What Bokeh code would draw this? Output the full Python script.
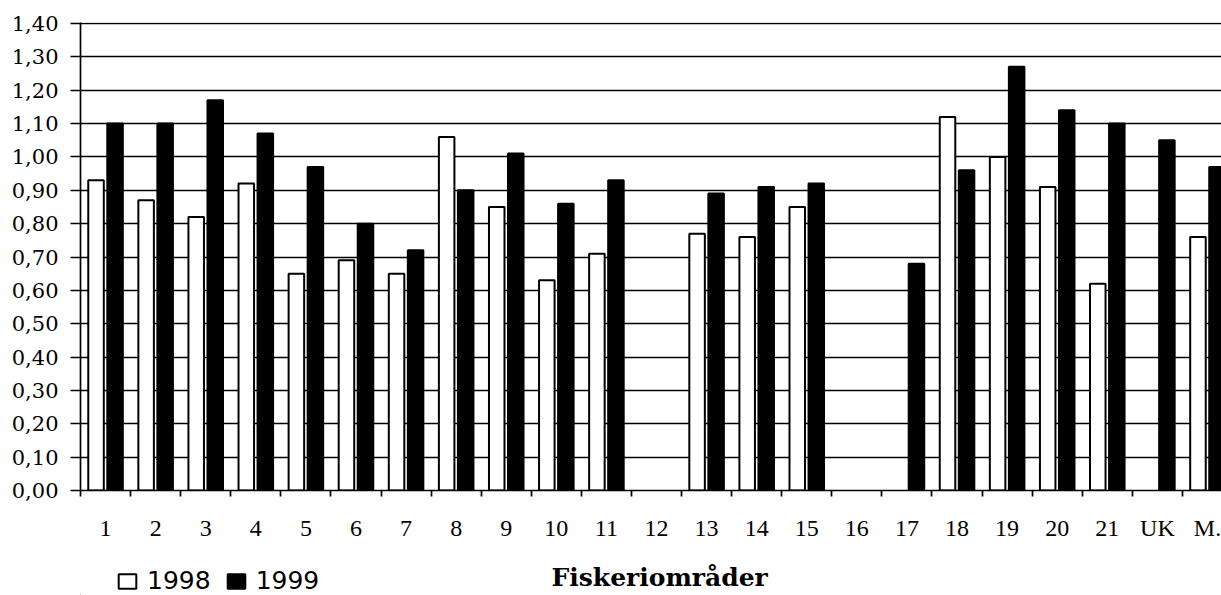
from bokeh.plotting import figure
from bokeh.layouts import column
from bokeh.models import (Range1d, LinearAxis, FixedTicker, CustomJSTickFormatter,
                          ColumnDataSource, Legend, LegendItem, Label, Grid)
from bokeh.embed import file_html
from bokeh.resources import INLINE

# ---------------- data ----------------
categories = ["1", "2", "3", "4", "5", "6", "7", "8", "9", "10", "11", "12",
              "13", "14", "15", "16", "17", "18", "19", "20", "21", "UK", "M."]
values_1998 = [0.93, 0.87, 0.82, 0.92, 0.65, 0.69, 0.65, 1.06, 0.85, 0.63, 0.71, None,
               0.77, 0.76, 0.85, None, None, 1.12, 1.00, 0.91, 0.62, None, 0.76]
values_1999 = [1.10, 1.10, 1.17, 1.07, 0.97, 0.80, 0.72, 0.90, 1.01, 0.86, 0.93, None,
               0.89, 0.91, 0.92, None, 0.68, 0.96, 1.27, 1.14, 1.10, 1.05, 0.97]
y_tick_values = [0.0, 0.1, 0.2, 0.3, 0.4, 0.5, 0.6, 0.7, 0.8, 0.9, 1.0, 1.1, 1.2, 1.3, 1.4]
y_tick_labels = ["0,00", "0,10", "0,20", "0,30", "0,40", "0,50", "0,60", "0,70",
                 "0,80", "0,90", "1,00", "1,10", "1,20", "1,30", "1,40"]
series_names = ["1998", "1999"]
x_title = "Fiskeriområder"

# ---------------- layout ----------------
n = len(categories)
offset = 0.19
bar_w = 0.31
style_1998 = dict(fill_color="white", line_color="black", line_width=2)
style_1999 = dict(fill_color="black", line_color="black", line_width=2)


def make_source(vals, shift):
    xs, tops = [], []
    for i, v in enumerate(vals):
        if v is None:
            continue
        xs.append(i + 0.5 + shift)
        tops.append(v)
    return ColumnDataSource(dict(x=xs, top=tops))


p = figure(width=1221, height=560, output_backend="svg", toolbar_location=None, title=None,
           x_range=Range1d(0, 22.78), y_range=Range1d(0, 1.403),
           x_axis_location=None, y_axis_location=None,
           min_border_left=80, min_border_right=0, min_border_top=22, min_border_bottom=70)
p.outline_line_color = None
p.background_fill_color = "white"
p.border_fill_color = "white"
for g in p.grid:
    g.visible = False

yticker = FixedTicker(ticks=y_tick_values)
p.add_layout(Grid(dimension=1, ticker=yticker, grid_line_color="black", grid_line_width=1.7))

p.vbar(x="x", top="top", width=bar_w, bottom=0, source=make_source(values_1998, -offset), **style_1998)
p.vbar(x="x", top="top", width=bar_w, bottom=0, source=make_source(values_1999, offset), **style_1999)

yaxis = LinearAxis(
    ticker=yticker,
    formatter=CustomJSTickFormatter(args=dict(labels=y_tick_labels),
                                    code="return labels[Math.round(tick*10)]"),
    axis_line_color="black", axis_line_width=1.7,
    major_tick_line_color="black", major_tick_line_width=1.7,
    major_tick_out=10, major_tick_in=0, minor_tick_line_color=None,
    major_label_standoff=12,
    major_label_text_font="DejaVu Serif", major_label_text_font_size="21px",
    major_label_text_color="black")
p.add_layout(yaxis, "left")

xaxis_ticks = LinearAxis(
    ticker=FixedTicker(ticks=list(range(n))),
    formatter=CustomJSTickFormatter(code="return ''"),
    axis_line_color="black", axis_line_width=1.7,
    major_tick_line_color="black", major_tick_line_width=1.7,
    major_tick_out=6, major_tick_in=0, minor_tick_line_color=None,
    major_label_standoff=0, major_label_text_font_size="1px")
p.add_layout(xaxis_ticks, "below")

xaxis_labels = LinearAxis(
    ticker=FixedTicker(ticks=[i + 0.5 for i in range(n)]),
    formatter=CustomJSTickFormatter(args=dict(labels=categories),
                                    code="return labels[Math.floor(tick)]"),
    axis_line_color=None, major_tick_line_color=None, minor_tick_line_color=None,
    major_tick_out=0, major_tick_in=0, major_label_standoff=18,
    major_label_text_font="Liberation Serif", major_label_text_font_size="24px",
    major_label_text_color="black")
p.add_layout(xaxis_labels, "below")

# ---- bottom strip: legend + axis title ----
b = figure(width=1221, height=35, output_backend="svg", toolbar_location=None, title=None,
           x_range=Range1d(0, 1), y_range=Range1d(0, 1),
           x_axis_location=None, y_axis_location=None,
           min_border_left=80, min_border_right=0, min_border_top=0, min_border_bottom=0)
b.outline_line_color = None
b.background_fill_color = "white"
b.border_fill_color = "white"
for g in b.grid:
    g.visible = False
# legend-key stand-ins (zero-height, outside the visible range)
d98 = b.vbar(x=[-5], top=[0], width=0.1, **style_1998)
d99 = b.vbar(x=[-5], top=[0], width=0.1, **style_1999)

legend = Legend(items=[LegendItem(label=series_names[0], renderers=[d98]),
                       LegendItem(label=series_names[1], renderers=[d99])],
                orientation="horizontal", location=(36, 0),
                padding=0, margin=0, spacing=14, label_standoff=9,
                glyph_width=22, glyph_height=18,
                border_line_color=None, background_fill_alpha=0,
                label_text_font="DejaVu Sans", label_text_font_size="25px",
                label_text_color="black")
b.add_layout(legend)

title = Label(x=471, y=18, x_units="screen", y_units="screen", text=x_title,
              text_font="DejaVu Serif", text_font_style="bold", text_font_size="25px",
              text_baseline="alphabetic", text_color="black")
b.add_layout(title)

layout = column(p, b, spacing=0)
open("out.html", "w").write(file_html(layout, INLINE))
